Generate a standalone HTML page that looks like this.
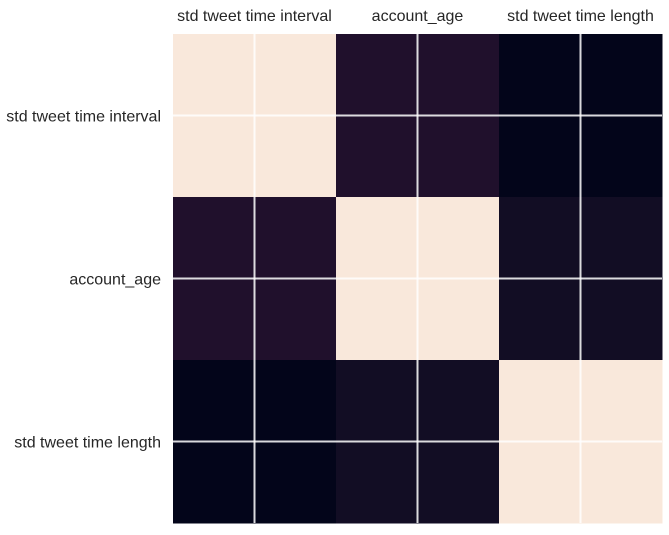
<!DOCTYPE html>
<html><head><meta charset="utf-8"><style>
body{margin:0;background:#fff;width:669px;height:530px;overflow:hidden;font-family:"Liberation Sans","DejaVu Sans",sans-serif}
</style></head><body>
<svg id="chart" width="669" height="530" xmlns="http://www.w3.org/2000/svg"></svg>
<script>
const labels=["std tweet time interval","account_age","std tweet time length"];
const row0=[1.0,0.12,0.0];
const row1=[0.12,1.0,0.07];
const row2=[0.0,0.07,1.0];
const values=[row0,row1,row2];
const svg=document.getElementById('chart');
const NS="http://www.w3.org/2000/svg";
const x0=173,y0=34,cell=163;
const xPos=i=>x0+i*cell, yPos=i=>y0+i*cell;
const stops=[[0,[3,5,26]],[0.07,[18,13,36]],[0.12,[32,16,44]],[0.3,[90,30,80]],[0.6,[203,27,79]],[0.8,[243,118,81]],[1,[249,232,219]]];
function color(v){for(let i=1;i<stops.length;i++){if(v<=stops[i][0]){const a=stops[i-1],b=stops[i];const t=(v-a[0])/(b[0]-a[0]);const c=a[1].map((x,k)=>Math.round(x+(b[1][k]-x)*t));return`rgb(${c})`;}}return'rgb(249,232,219)';}
values.forEach((r,i)=>r.forEach((v,j)=>{
const el=document.createElementNS(NS,'rect');


el.setAttribute('x',xPos(j));el.setAttribute('y',yPos(i));el.setAttribute('width',cell+0.5);el.setAttribute('height',cell+0.5);el.setAttribute('fill',color(v));svg.appendChild(el);
}));
labels.forEach((l,i)=>{
const c=x0+i*cell+cell/2, cy=y0+i*cell+cell/2;
const gv=document.createElementNS(NS,'line');


gv.setAttribute('x1',c);gv.setAttribute('x2',c);gv.setAttribute('y1',y0);gv.setAttribute('y2',y0+3*cell);gv.setAttribute('stroke','#fff');gv.setAttribute('stroke-width',2);gv.setAttribute('opacity',0.85);svg.appendChild(gv);
const gh=document.createElementNS(NS,'line');


gh.setAttribute('y1',cy);gh.setAttribute('y2',cy);gh.setAttribute('x1',x0);gh.setAttribute('x2',x0+3*cell);gh.setAttribute('stroke','#fff');gh.setAttribute('stroke-width',2);gh.setAttribute('opacity',0.85);svg.appendChild(gh);
const tx=document.createElementNS(NS,'text');


tx.setAttribute('x',c);tx.setAttribute('y',21);tx.setAttribute('text-anchor','middle');tx.setAttribute('font-size','16');tx.setAttribute('fill','#262626');tx.textContent=l;svg.appendChild(tx);
const ty=document.createElementNS(NS,'text');


ty.setAttribute('x',161);ty.setAttribute('y',cy+6);ty.setAttribute('text-anchor','end');ty.setAttribute('font-size','16');ty.setAttribute('fill','#262626');ty.textContent=l;svg.appendChild(ty);
});
</script>
</body></html>
